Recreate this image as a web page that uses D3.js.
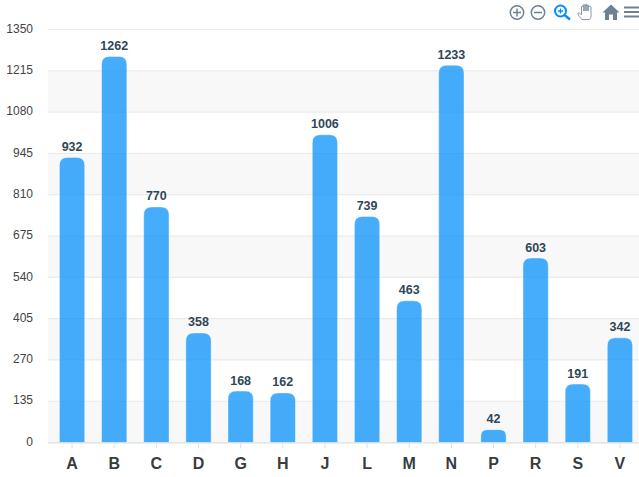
<!DOCTYPE html>
<html>
<head>
<meta charset="utf-8">
<script src="https://cdn.jsdelivr.net/npm/d3@7"></script>
<style>
html, body { margin: 0; padding: 0; background: #fff; overflow: hidden; }
text { font-family: "Liberation Sans", Arial, sans-serif; }
</style>
</head>
<body>
<div id="chart"></div>
<script>
// Data
const categories = ['A', 'B', 'C', 'D', 'G', 'H', 'J', 'L', 'M', 'N', 'P', 'R', 'S', 'V'];
const values = [932, 1262, 770, 358, 168, 162, 1006, 739, 463, 1233, 42, 603, 191, 342];
const yTicks = [0, 135, 270, 405, 540, 675, 810, 945, 1080, 1215, 1350];

// Dimensions
const width = 639;
const height = 477;
const margin = { top: 29.5, right: -2, bottom: 34.5, left: 51 };
const gridLeft = 48;

const svg = d3.select("#chart")
    .append("svg")
    .attr("width", width)
    .attr("height", height);

const x = d3.scaleBand()
    .domain(categories)
    .range([margin.left, width - margin.right])
    .paddingInner(0.4)
    .paddingOuter(0.2);

const y = d3.scaleLinear()
    .domain([0, 1350])
    .range([height - margin.bottom, margin.top]);

// Alternating bands
svg.append("g")
    .selectAll("rect")
    .data(yTicks.slice(0, -1).filter((d, i) => i % 2 === 0))
    .join("rect")
    .attr("x", gridLeft)
    .attr("width", width - gridLeft)
    .attr("y", d => y(d + 135))
    .attr("height", d => y(d) - y(d + 135))
    .attr("fill", "#f3f3f3")
    .attr("fill-opacity", 0.6);

// Grid lines
svg.append("g")
    .selectAll("line")
    .data(yTicks)
    .join("line")
    .attr("x1", gridLeft)
    .attr("x2", width)
    .attr("y1", d => y(d))
    .attr("y2", d => y(d))
    .attr("stroke", "#e0e0e0")
    .attr("stroke-opacity", 0.7);

// Y axis labels
svg.append("g")
    .selectAll("text")
    .data(yTicks)
    .join("text")
    .attr("x", 33)
    .attr("y", d => y(d) - 1)
    .attr("dy", "0.35em")
    .attr("text-anchor", "end")
    .attr("font-size", "12px")
    .attr("fill", "#444")
    .text(d => d);

// Bars with rounded tops
svg.append("g")
    .selectAll("path")
    .data(values)
    .join("path")
    .attr("d", (d, i) => {
        const x0 = x(categories[i]);
        const w = x.bandwidth();
        const r = Math.min(8, (y(0) - y(d)) / 2);
        return `M${x0},${y(0)}V${y(d) + r}Q${x0},${y(d)} ${x0 + r},${y(d)}H${x0 + w - r}Q${x0 + w},${y(d)} ${x0 + w},${y(d) + r}V${y(0)}Z`;
    })
    .attr("fill", "#008ffb")
    .attr("fill-opacity", 0.73)
    .attr("stroke", "#ffffff")
    .attr("stroke-opacity", 0.4);

// Value labels
svg.append("g")
    .selectAll("text")
    .data(values)
    .join("text")
    .attr("x", (d, i) => x(categories[i]) + x.bandwidth() / 2)
    .attr("y", d => y(d) - 6.5)
    .attr("text-anchor", "middle")
    .attr("font-size", "12.5px")
    .attr("font-weight", "bold")
    .attr("fill", "#304758")
    .text(d => d);

// X axis
svg.append("line")
    .attr("x1", gridLeft)
    .attr("x2", width)
    .attr("y1", y(0) + 0.5)
    .attr("y2", y(0) + 0.5)
    .attr("stroke", "#e0e0e0");

const xTicks = svg.append("g")
    .selectAll("g")
    .data(categories)
    .join("g")
    .attr("transform", d => `translate(${x(d) + x.bandwidth() / 2},0)`);

xTicks.append("line")
    .attr("y1", y(0))
    .attr("y2", y(0) + 6)
    .attr("stroke", "#e0e0e0");

xTicks.append("text")
    .attr("y", 469)
    .attr("text-anchor", "middle")
    .attr("font-size", "16px")
    .attr("font-weight", "bold")
    .attr("fill", "#373d3f")
    .text(d => d);

// Toolbar icons
const toolbar = svg.append("g");
const iconColor = "#6e8192";

function zoomIcon(cx, cy, plus) {
    const g = toolbar.append("g")
        .attr("fill", "none")
        .attr("stroke", iconColor)
        .attr("stroke-width", 1.5);
    g.append("circle").attr("cx", cx).attr("cy", cy).attr("r", 6.7);
    g.append("line").attr("x1", cx - 4).attr("x2", cx + 4).attr("y1", cy).attr("y2", cy);
    if (plus) g.append("line").attr("x1", cx).attr("x2", cx).attr("y1", cy - 4).attr("y2", cy + 4);
}
zoomIcon(517, 12.5, true);
zoomIcon(538, 12.5, false);

// Selected zoom tool
const lens = toolbar.append("g")
    .attr("fill", "none")
    .attr("stroke", "#008ffb");
lens.append("circle").attr("cx", 560.5).attr("cy", 11).attr("r", 5.5).attr("stroke-width", 2);
lens.append("line").attr("x1", 564.5).attr("y1", 15).attr("x2", 570).attr("y2", 19.5).attr("stroke-width", 2.4);
lens.append("path").attr("d", "M558,11H563M560.5,8.5V13.5").attr("stroke-width", 1.3);

// Pan hand
toolbar.append("path")
    .attr("d", "M582,19.5C580,18 578.5,15.5 578,13.5C578,12.5 579.5,12.5 580.5,14L581.5,15V7C581.5,5.8 583,5.8 583,7V5.5C583,4.2 585,4.2 585,5.5V5C585,3.8 587,3.8 587,5V6C587,4.8 589,4.8 589,6V7C589,6 591,6 591,7V16C591,18 590,19.5 589,19.5Z")
    .attr("fill", "#fff")
    .attr("stroke", "#8a98a5")
    .attr("stroke-width", 1);
toolbar.append("path")
    .attr("d", "M584,5.5V11M586,5V11M588,6V11")
    .attr("stroke", iconColor)
    .attr("stroke-width", 1.4);

// Home
toolbar.append("path")
    .attr("d", "M602.5,12.5L611,4.5L619.5,12.5H617V20H613V14.5H609V20H605V12.5Z")
    .attr("fill", iconColor);

// Menu
toolbar.append("g")
    .selectAll("rect")
    .data([7.5, 12, 16.5])
    .join("rect")
    .attr("x", 624)
    .attr("width", 15)
    .attr("y", d => d - 1)
    .attr("height", 2)
    .attr("fill", iconColor);
</script>
</body>
</html>
